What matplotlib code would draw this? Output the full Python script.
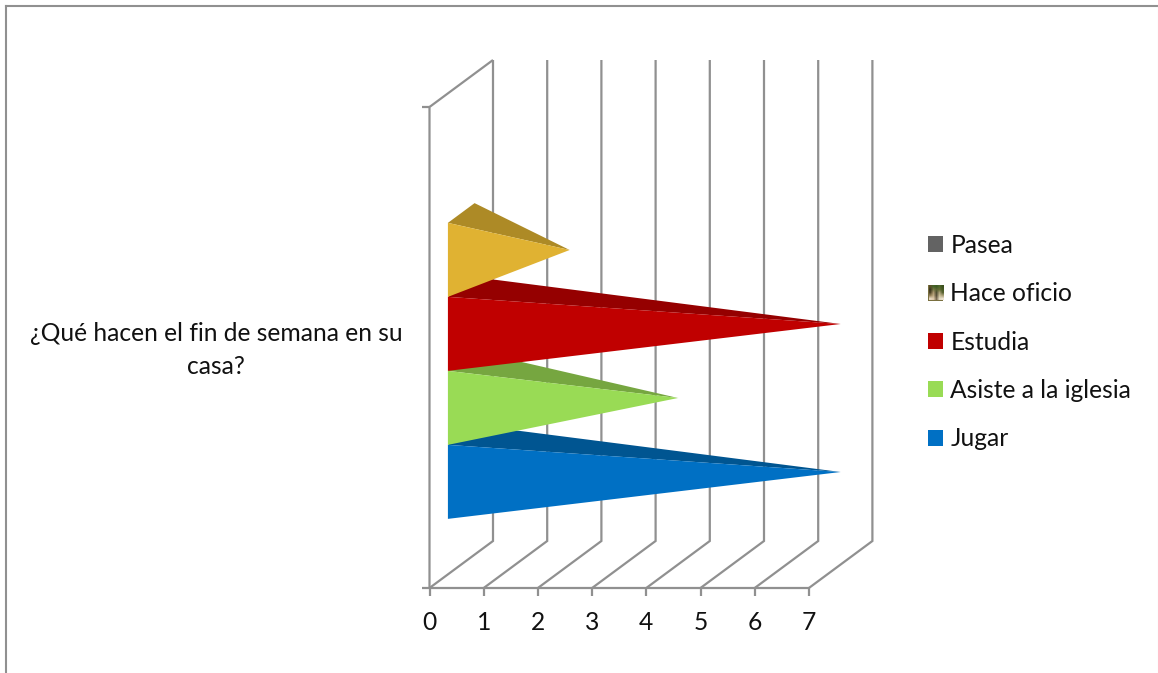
import numpy as np
import matplotlib
matplotlib.use("Agg")
import matplotlib.pyplot as plt
from matplotlib.patches import Patch, Polygon

plt.rcParams['font.family'] = ['Lato', 'DejaVu Sans']

# data
category = "¿Qué hacen el fin de semana en su\ncasa?"
series_names = ["Jugar", "Asiste a la iglesia", "Estudia", "Hace oficio", "Pasea"]
series_values = [7, 4, 7, 2, 0]
front_colors = ["#0070C4", "#99DB55", "#C00000", "#E0B232", "#636363"]
top_colors = ["#005591", "#76A640", "#950000", "#AD8A26", "#4A4A4A"]
x_ticks = [0, 1, 2, 3, 4, 5, 6, 7]
# the little picture used as legend key for "Hace oficio"
swatch = np.array([
    [[90, 80, 40], [70, 100, 40], [60, 90, 35], [80, 105, 45], [60, 80, 30]],
    [[60, 55, 30], [120, 120, 70], [90, 100, 50], [100, 110, 50], [70, 90, 35]],
    [[80, 70, 40], [170, 150, 110], [80, 80, 50], [170, 160, 120], [90, 100, 50]],
    [[150, 130, 90], [190, 170, 130], [90, 80, 60], [200, 190, 150], [170, 160, 120]],
    [[230, 215, 190], [220, 200, 170], [120, 105, 80], [225, 215, 190], [235, 225, 205]],
], dtype=np.uint8)

grey = "#909090"
fs = 17.7

# pixels of the 3d box on the page
W, H = 1158, 673
px_unit = 54.2       # pixels for one x unit
x0_px = 429.5
y0_px = 588
y1_px = 107
depth_dx = 63.5 / px_unit
depth_dy = 47 / (y0_px - y1_px)

fig = plt.figure(figsize=(W / 100, H / 100), dpi=100)
ax = fig.add_axes([0, 0, 1, 1])
ax.set_xlim(-x0_px / px_unit, (W - x0_px) / px_unit)
ax.set_ylim((y0_px - H) / (y0_px - y1_px), y0_px / (y0_px - y1_px))
ax.axis("off")


def proj(v, y, d):
    # oblique projection, d=0 is the front of the box, d=1 the back wall
    return v + d * depth_dx, y + d * depth_dy


def line3(pts, **kw):
    xy = np.array([proj(*p) for p in pts])
    ax.plot(xy[:, 0], xy[:, 1], color=grey, lw=1.6, solid_capstyle="butt",
            solid_joinstyle="miter", **kw)


# walls and gridlines
for v in x_ticks:
    line3([(v, 0, 0), (v, 0, 1), (v, 1, 1)])
line3([(0, 0, 0), (0, 1, 0), (0, 1, 1)])
line3([(0, 0, 0), (x_ticks[-1], 0, 0)])

# tick marks
for v in x_ticks:
    ax.plot([v, v], [0, -8 / (y0_px - y1_px)], color=grey, lw=1.6, solid_capstyle="butt")
    ax.text(v, -35 / (y0_px - y1_px), str(v), ha="center", va="center", fontsize=fs, color="#111111")
for y in [0, 1]:
    ax.plot([-8 / px_unit, 0], [y, y], color=grey, lw=1.6, solid_capstyle="butt")

# pyramids, one per series, back to front from the bottom
n = len(series_names)
bar_h = 74 / (y0_px - y1_px)
gap = (1 - n * bar_h) / 2
d_front, d_back = 0.29, 0.71
for i, val in enumerate(series_values):
    if val == 0:
        continue
    lo = gap + i * bar_h
    hi = lo + bar_h
    tip = proj(val, (lo + hi) / 2, 0.5)
    a = proj(0, lo, d_front)
    b = proj(0, hi, d_front)
    c = proj(0, hi, d_back)
    ax.add_patch(Polygon([b, c, tip], closed=True, fc=top_colors[i], ec="none", zorder=3 + i))
    ax.add_patch(Polygon([a, b, tip], closed=True, fc=front_colors[i], ec="none", zorder=3 + i))

# category label
ax.text((216 - x0_px) / px_unit, (y0_px - 350) / (y0_px - y1_px), category, ha="center", va="center",
        fontsize=fs, color="#111111", linespacing=1.49)

# legend
handles = [Patch(fc=front_colors[i], ec="none") for i in range(n)][::-1]
handles[1] = Patch(fc="#7A7040", ec="none")
leg = ax.legend(handles, series_names[::-1], loc="upper left",
                bbox_to_anchor=(923 / W, 1 - 229 / H), frameon=False, fontsize=fs,
                labelcolor="#111111", handlelength=0.62, handleheight=0.62, handletextpad=0.29,
                labelspacing=1.03, borderpad=0.2, borderaxespad=0)
ax.imshow(swatch, extent=((929 - x0_px) / px_unit, (944 - x0_px) / px_unit,
                          (y0_px - 300.5) / (y0_px - y1_px), (y0_px - 285.5) / (y0_px - y1_px)),
          aspect="auto", interpolation="bilinear", zorder=10)
ax.set_xlim(-x0_px / px_unit, (W - x0_px) / px_unit)
ax.set_ylim((y0_px - H) / (y0_px - y1_px), y0_px / (y0_px - y1_px))

# chart frame
fig.add_artist(plt.Line2D([6 / W, 6 / W], [0, 1 - 5.5 / H], color=grey, lw=1.5))
fig.add_artist(plt.Line2D([5.5 / W, 1], [1 - 5.5 / H, 1 - 5.5 / H], color=grey, lw=1.5))
fig.add_artist(plt.Line2D([1157.5 / W, 1157.5 / W], [0, 1 - 6 / H], color="#E4E4E4", lw=0.8))

fig.savefig("out.png", dpi=100)
